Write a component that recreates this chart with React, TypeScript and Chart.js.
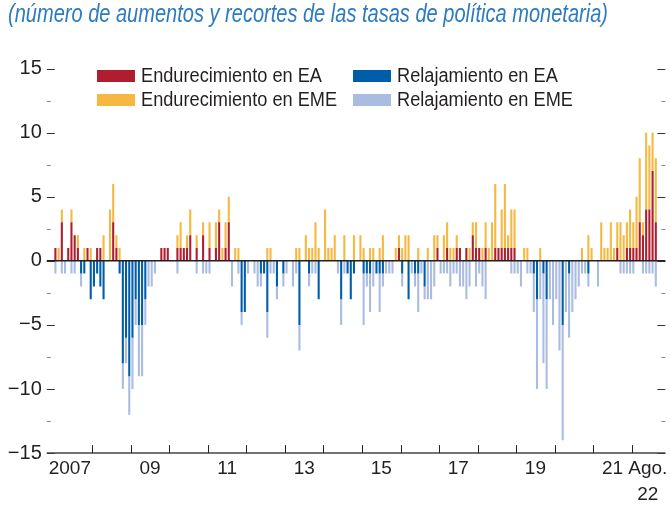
import React, { useEffect, useRef } from "react";
import { Chart, registerables } from "chart.js";

Chart.register(...registerables);

// Monthly categories: Jan 2007 – Aug 2022
const categories: string[] = [];
for (let y = 2007; y <= 2022; y++) {
  for (let m = 1; m <= 12; m++) {
    if (y === 2022 && m > 8) break;
    categories.push(`${y}-${String(m).padStart(2, "0")}`);
  }
}

const tickLabels: Record<string, string | string[]> = {
  "2007-06": "2007",
  "2009-07": "09",
  "2011-07": "11",
  "2013-07": "13",
  "2015-07": "15",
  "2017-07": "17",
  "2019-07": "19",
  "2021-07": "21",
  "2022-06": ["Ago.", "22"],
};

const yMajorTicks = [-15, -10, -5, 0, 5, 10, 15];

const seriesLabels = [
  "Endurecimiento en EA",
  "Endurecimiento en EME",
  "Relajamiento en EA",
  "Relajamiento en EME",
];
const seriesColors = ["#AE1E2F", "#F5B942", "#005DAA", "#AABDE0"];

const eaTightening = [
  1,0,3,0,1,3,2,1,0,0,1,0, // 2007
  0,1,1,0,0,0,3,1,0,0,0,0, // 2008
  0,0,0,0,0,0,0,0,0,1,1,1, // 2009
  0,0,1,1,1,1,2,0,1,0,2,0, // 2010
  1,0,1,3,0,1,3,0,0,0,0,0, // 2011
  0,0,0,0,0,0,0,0,0,0,0,0, // 2012
  0,0,0,0,0,0,0,0,0,0,0,0, // 2013
  0,0,0,0,0,0,0,0,0,0,0,0, // 2014
  0,0,0,0,0,0,0,0,0,0,0,1, // 2015
  0,0,0,0,0,0,0,0,0,0,0,1, // 2016
  0,0,1,0,0,1,1,0,1,0,2,1, // 2017
  1,0,1,0,0,1,1,1,1,1,1,1, // 2018
  0,0,0,0,0,0,0,0,0,0,0,0, // 2019
  0,0,0,0,0,0,0,0,0,0,0,0, // 2020
  0,0,0,0,0,0,0,1,0,0,1,1, // 2021
  1,1,3,2,4,4,7,3,         // 2022
];

const emeTightening = [
  0,1,1,0,0,1,0,1,0,1,0,1, // 2007
  0,0,0,2,0,4,3,1,1,0,0,0, // 2008
  0,0,0,0,0,0,0,0,0,0,0,0, // 2009
  0,0,1,2,0,1,2,0,1,0,1,0, // 2010
  2,0,2,1,1,2,2,0,1,1,0,0, // 2011
  0,0,0,0,0,0,1,1,0,0,0,0, // 2012
  0,0,0,1,1,0,2,1,1,3,1,0, // 2013
  4,1,1,2,0,0,2,0,0,2,0,2, // 2014
  1,0,1,1,0,1,2,0,0,0,1,1, // 2015
  1,2,2,0,0,1,0,0,1,0,2,1, // 2016
  0,2,2,1,1,1,0,0,0,1,1,2, // 2017
  0,1,2,1,3,5,0,3,5,1,3,3, // 2018
  0,0,1,1,0,0,0,1,0,0,0,0, // 2019
  0,0,0,0,0,0,0,0,1,0,2,1, // 2020
  0,0,3,1,1,3,1,2,3,2,2,3, // 2021
  2,4,5,1,6,5,3,5,         // 2022
];

const eaEasing = [
  0,0,0,0,0,0,0,0,-1,-1,0,-3,     // 2007
  -2,-1,-2,-3,0,0,0,0,-1,-8,-6,-9, // 2008
  -6,-3,-5,-5,-3,0,0,0,0,0,0,0,    // 2009
  0,0,0,0,0,0,0,0,0,0,0,0,         // 2010
  0,0,0,0,0,0,0,0,0,0,-4,-4,       // 2011
  0,0,0,0,-1,-1,-4,0,0,-2,0,-1,    // 2012
  0,0,0,0,-5,0,0,-1,0,0,-3,0,      // 2013
  0,0,0,0,0,-3,0,-1,-3,-1,0,0,     // 2014
  -1,-1,-1,0,-1,-1,-1,0,0,0,0,0,   // 2015
  -1,0,-3,0,-1,-1,0,-2,0,0,0,0,    // 2016
  0,0,0,0,0,0,0,0,0,0,0,0,         // 2017
  0,0,0,0,0,0,0,0,0,0,0,0,         // 2018
  0,0,0,0,0,-1,-3,0,-1,-3,0,0,     // 2019
  0,0,-5,0,-1,0,0,0,0,0,-1,0,      // 2020
  0,0,0,0,0,0,0,0,0,0,0,0,         // 2021
  0,0,0,0,0,0,0,0,                 // 2022
];

const emeEasing = [
  -1,0,-1,-1,0,-1,-1,0,-1,0,0,0,   // 2007
  0,0,0,0,0,0,0,0,0,-2,-2,-3,      // 2008
  -4,-2,-4,-4,-2,-2,-2,-1,0,0,0,0, // 2009
  0,0,-1,0,0,0,0,0,-1,0,-1,-1,     // 2010
  -1,0,0,0,0,0,0,-2,0,-1,-1,0,     // 2011
  -1,0,-1,-2,-1,0,-2,-1,-1,-1,0,-1, // 2012
  -1,0,-2,-1,-2,0,0,-1,-1,-1,0,0,  // 2013
  0,0,0,0,-1,-2,-1,0,0,0,0,0,      // 2014
  -4,-1,-3,-2,0,-3,-1,-1,-1,-1,0,0, // 2015
  -1,0,0,-1,-1,-3,-1,-1,-3,-3,-2,0, // 2016
  -1,-1,-1,-2,-1,-1,-2,-2,-3,-2,0,-2, // 2017
  -1,-2,-3,0,0,0,0,0,0,0,-1,-1,    // 2018
  -1,-2,0,-1,-1,-3,-7,-3,-7,-7,-3,-5, // 2019
  -3,-7,-9,-4,-5,-4,-3,-2,-1,-1,-1,0, // 2020
  0,-2,0,0,0,0,0,0,-1,-1,-1,-1,    // 2021
  -1,0,0,-1,-1,-1,-1,-2,           // 2022
];

const TITLE = "(número de aumentos y recortes de las tasas de política monetaria)";
const FONT = '"Liberation Sans", Arial, sans-serif';
const TEXT = "#231F20";

function fmt(v: number) {
  return v < 0 ? "\u2212" + Math.abs(v) : String(v);
}

export default function App() {
  const ref = useRef<HTMLCanvasElement | null>(null);

  useEffect(() => {
    const canvas = ref.current;
    if (!canvas) return;

    const decor = {
      id: "decor",
      afterDatasetsDraw(chart: any) {
        const { ctx, chartArea, scales } = chart;
        const xs = scales.x;
        const ys = scales.y;
        const L = chartArea.left - 7;
        const R = chartArea.right + 8;
        ctx.save();
        ctx.lineWidth = 1;
        for (let v = -15; v <= 15; v += 2.5) {
          const py = Math.round(ys.getPixelForValue(v)) + 0.5;
          const major = yMajorTicks.includes(v);
          const len = major ? 8 : 4;
          ctx.strokeStyle = major ? "#333" : "#888";
          ctx.beginPath();
          ctx.moveTo(L, py);
          ctx.lineTo(L + len, py);
          ctx.moveTo(R, py);
          ctx.lineTo(R - len, py);
          ctx.stroke();
        }
        // bottom axis line
        const yb = ys.getPixelForValue(-15);
        ctx.strokeStyle = "#444";
        ctx.lineWidth = 1.5;
        ctx.beginPath();
        ctx.moveTo(L, yb);
        ctx.lineTo(R, yb);
        ctx.stroke();
        // year ticks
        ctx.lineWidth = 1;
        ctx.strokeStyle = "#222";
        for (let i = 12; i < categories.length; i += 12) {
          const px = Math.round((xs.getPixelForValue(i - 1) + xs.getPixelForValue(i)) / 2) + 0.5;
          ctx.beginPath();
          ctx.moveTo(px, yb);
          ctx.lineTo(px, yb - 8);
          ctx.stroke();
        }
        // zero line
        const y0 = ys.getPixelForValue(0);
        ctx.strokeStyle = "#231F20";
        ctx.lineWidth = 1.5;
        ctx.beginPath();
        ctx.moveTo(L, y0);
        ctx.lineTo(R, y0);
        ctx.stroke();
        ctx.restore();
      },
      afterDraw(chart: any) {
        const { ctx } = chart;
        ctx.save();
        // title
        ctx.fillStyle = "#2B7BC1";
        ctx.font = `italic 25px ${FONT}`;
        ctx.textBaseline = "alphabetic";
        ctx.textAlign = "left";
        ctx.fillText(TITLE, 8, 22, 600);
        // legend
        const layout = [
          [0, 2],
          [1, 3],
        ];
        const colX = [97, 353];
        const rowY = [70, 94];
        ctx.font = `20px ${FONT}`;
        ctx.textBaseline = "middle";
        const squeeze = 181 / ctx.measureText(seriesLabels[0]).width;
        layout.forEach((row, r) => {
          row.forEach((di, c) => {
            const ds = chart.data.datasets[di];
            ctx.fillStyle = ds.backgroundColor;
            ctx.fillRect(colX[c], rowY[r], 38, 12);
            ctx.fillStyle = TEXT;
            const w = ctx.measureText(ds.label).width * squeeze;
            ctx.fillText(ds.label, colX[c] + 44, rowY[r] + 6.5, w);
          });
        });
        ctx.restore();
      },
    };

    const chart = new Chart(canvas, {
      type: "bar",
      data: {
        labels: categories,
        datasets: [eaTightening, emeTightening, eaEasing, emeEasing].map((d, k) => ({
          label: seriesLabels[k],
          data: d,
          backgroundColor: seriesColors[k],
          borderWidth: 0,
          barPercentage: 0.65,
          categoryPercentage: 1,
        })),
      },
      options: {
        animation: false,
        responsive: false,
        devicePixelRatio: 1,
        layout: { padding: { top: 68.5, right: 13.6, bottom: 0, left: 0 } },
        plugins: { legend: { display: false }, tooltip: { enabled: false }, title: { display: false } },
        scales: {
          x: {
            stacked: true,
            grid: { display: false, drawTicks: false },
            border: { display: false },
            afterFit: (s: any) => {
              s.height = 52.9;
            },
            ticks: {
              autoSkip: false,
              maxRotation: 0,
              minRotation: 0,
              padding: 3,
              labelOffset: -1.6,
              color: TEXT,
              font: { family: FONT, size: 19, lineHeight: 1.37 },
              callback: (_v: any, i: number) => tickLabels[categories[i]] ?? "",
            },
          },
          y: {
            stacked: true,
            min: -15,
            max: 15,
            grid: { display: false, drawTicks: false },
            border: { display: false },
            afterFit: (s: any) => {
              s.width = 53.8;
            },
            afterBuildTicks: (s: any) => {
              s.ticks = yMajorTicks.map((v) => ({ value: v }));
            },
            ticks: {
              padding: 12,
              color: TEXT,
              font: { family: FONT, size: 20 },
              callback: (v: any) => fmt(Number(v)),
            },
          },
        },
      },
      plugins: [decor],
    });

    return () => chart.destroy();
  }, []);

  return (
    <div style={{ position: "fixed", left: 0, top: 0, width: 671, height: 506, background: "#fff" }}>
      <canvas ref={ref} width={671} height={506} style={{ display: "block" }} />
    </div>
  );
}
